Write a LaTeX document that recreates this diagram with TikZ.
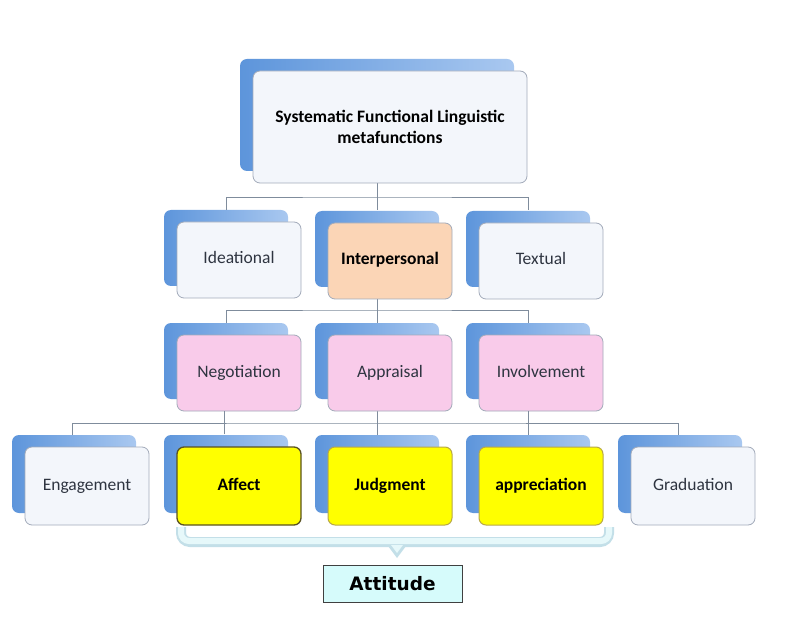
\documentclass[tikz,border=0pt]{standalone}
\usepackage{fontspec}
\setmainfont{Carlito}
\newfontfamily\attfont{DejaVu Sans}
\usetikzlibrary{shadows}
\definecolor{shadL}{HTML}{5D95DB}
\definecolor{shadR}{HTML}{A9C8F0}
\definecolor{boxfill}{HTML}{F3F6FB}
\definecolor{boxline}{HTML}{A3ABBA}
\definecolor{txt}{HTML}{2E3440}
\definecolor{peach}{HTML}{FBD5B6}
\definecolor{pinkb}{HTML}{F9CBEA}
\definecolor{yel}{HTML}{FFFF00}
\definecolor{yelline}{HTML}{B8A848}
\definecolor{affline}{HTML}{5A5222}
\definecolor{conncol}{HTML}{7F8C9C}
\definecolor{bracein}{HTML}{E6F8FA}
\definecolor{braceout}{HTML}{C3DFE8}
\definecolor{attfill}{HTML}{D6FBFB}
\begin{document}
\begin{tikzpicture}[x=1pt,y=-1pt,
  basebox/.style={draw=boxline, rounded corners=7pt, line width=0.8pt,
    minimum width=124pt, minimum height=76pt, align=center,
    text=txt, fill=boxfill,
    general shadow={shadow xshift=-13pt, shadow yshift=12pt,
      left color=shadL, right color=shadR}},
  box/.style={basebox, font=\fontsize{17.5}{21}\selectfont, text height=12pt, text depth=4pt},
  bbox/.style={box, font=\fontsize{17.5}{21}\selectfont\bfseries, text=black},
  ybox/.style={bbox, fill=yel, draw=yelline, line width=1pt},
  conn/.style={draw=conncol, line width=0.8pt}]
\useasboundingbox (0,0) rectangle (789,617);
\fill[white] (0,0) rectangle (789,617);

% connectors (trunks)
\draw[conn] (377,183) -- (377,197) coordinate (bus1);
\draw[conn] (377,298) -- (377,310) coordinate (bus2);
\draw[conn] (377,411) -- (377,423) coordinate (bus3);

% level 1
\node[basebox, font=\fontsize{17.5}{21}\selectfont\bfseries, text=black,
  minimum width=274pt, minimum height=112pt] (top) at (390,127)
  {Systematic Functional Linguistic\\metafunctions};

% level 2
\node[box] (ide) at (239,260) {Ideational};
\node[bbox, fill=peach] (inter) at (390,261) {Interpersonal};
\node[box] (tex) at (541,261) {Textual};

% level 3
\node[box, fill=pinkb] (neg) at (239,373) {Negotiation};
\node[box, fill=pinkb] (app) at (390,373) {Appraisal};
\node[box, fill=pinkb] (inv) at (541,373) {Involvement};

% level 4
\node[box, minimum height=78pt] (eng) at (87,486) {Engagement};
\node[ybox, minimum height=78pt, draw=affline, line width=1.3pt] (aff) at (239,486) {Affect};
\node[ybox, minimum height=78pt] (jud) at (390,486) {Judgment};
\node[ybox, minimum height=78pt] (apr) at (541,486) {appreciation};
\node[box, minimum height=78pt] (gra) at (693,486) {Graduation};

\draw[conn] ([xshift=-13pt,yshift=12pt]ide.north) |- (bus1) -| ([xshift=-13pt,yshift=12pt]tex.north |- ide.north);
\draw[conn] (bus1) -- ([xshift=-13pt,yshift=12pt]inter.north |- ide.north);

\draw[conn] ([xshift=-13pt,yshift=12pt]neg.north) |- (bus2) -| ([xshift=-13pt,yshift=12pt]inv.north);
\draw[conn] (bus2) -- ([xshift=-13pt,yshift=12pt]app.north);

\draw[conn] ([xshift=-15pt,yshift=12pt]eng.north) |- (bus3) -| ([xshift=-15pt,yshift=12pt]gra.north);
\draw[conn] ([xshift=-15pt,yshift=12pt]aff.north) -- ([xshift=-15pt,yshift=12pt]aff.north |- bus3);
\draw[conn] ([xshift=-13pt,yshift=12pt]apr.north) -- ([xshift=-13pt,yshift=12pt]apr.north |- bus3);
\draw[conn] (bus3) -- ([xshift=-13pt,yshift=12pt]jud.north);

% brace
\draw[braceout, line width=10pt, rounded corners=9pt] (181,527) -- (181,542) -- (609,542) -- (609,527);
\draw[bracein, line width=6pt, rounded corners=8pt] (181,527) -- (181,541) -- (609,541) -- (609,527);
\fill[braceout] (388,546) -- (406,546) -- (397,558) -- cycle;
\fill[bracein] (391,545) -- (403,545) -- (397,553) -- cycle;

% attitude
\node[draw=black!75, fill=attfill, line width=1pt, minimum width=139pt, minimum height=37pt,
  font=\attfont\fontsize{18.5}{22}\selectfont\bfseries] (att) at (392.5,583.5) {Attitude};
\end{tikzpicture}
\end{document}
